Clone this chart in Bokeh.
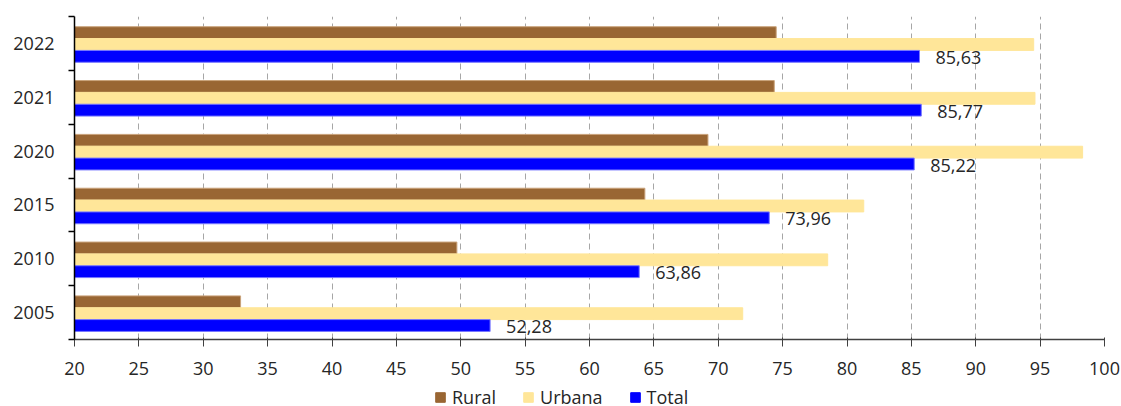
from bokeh.plotting import figure
from bokeh.layouts import column
from bokeh.models import (Range1d, FixedTicker, Legend, LegendItem, ColumnDataSource,
                          LinearAxis)
from bokeh.core.properties import value
from bokeh.embed import file_html
from bokeh.resources import INLINE

# ---- data (bottom to top) ----
years = ["2005", "2010", "2015", "2020", "2021", "2022"]
rural = [32.9, 49.7, 64.3, 69.2, 74.35, 74.5]
urbana = [71.9, 78.5, 81.3, 98.3, 94.6, 94.5]
total = [52.28, 63.86, 73.96, 85.22, 85.77, 85.63]
total_labels = ["52,28", "63,86", "73,96", "85,22", "85,77", "85,63"]
series_names = ["Rural", "Urbana", "Total"]
series_colors = ["#996633", "#ffe699", "#0000ff"]
series_lines = ["#c9a27a", "#ffe699", "#7777ff"]
x_ticks = list(range(20, 101, 5))

FONT = "Open Sans"
TXT = "#262626"
FS = "18px"

n = len(years)
centers = [i + 0.5 for i in range(n)]

p = figure(frame_width=1030, frame_height=323, output_backend="svg", toolbar_location=None,
           x_range=Range1d(20, 100), y_range=Range1d(0, n),
           min_border_left=74, min_border_right=17, min_border_top=16, min_border_bottom=48,
           x_axis_location=None, y_axis_location=None)
p.outline_line_color = None
p.background_fill_color = "white"
p.border_fill_color = "white"

# axes
xaxis = LinearAxis(ticker=FixedTicker(ticks=x_ticks))
xaxis.axis_line_color = "#404040"
xaxis.axis_line_width = 1.5
xaxis.major_tick_line_color = "#404040"
xaxis.major_tick_out = 7
xaxis.major_tick_in = 2
xaxis.minor_tick_line_color = None
xaxis.major_label_text_font = FONT
xaxis.major_label_text_font_size = FS
xaxis.major_label_text_color = TXT
xaxis.major_label_standoff = 15
p.add_layout(xaxis, "below")

yaxis = LinearAxis(ticker=FixedTicker(ticks=centers, minor_ticks=list(range(0, n + 1))))
yaxis.major_label_overrides = {c: y for c, y in zip(centers, years)}
yaxis.axis_line_color = "black"
yaxis.axis_line_width = 1.5
yaxis.major_tick_line_color = None
yaxis.major_tick_out = 0
yaxis.major_tick_in = 0
yaxis.minor_tick_line_color = "black"
yaxis.minor_tick_line_width = 1.5
yaxis.minor_tick_out = 6
yaxis.minor_tick_in = 0
yaxis.major_label_text_font = FONT
yaxis.major_label_text_font_size = FS
yaxis.major_label_text_color = TXT
yaxis.major_label_standoff = 14
p.add_layout(yaxis, "left")

# grid
p.xgrid.ticker = FixedTicker(ticks=x_ticks)
p.xgrid.grid_line_color = "#a6a6a6"
p.xgrid.grid_line_dash = "6 4"
p.xgrid.grid_line_width = 1
p.ygrid.grid_line_color = None

bh = 0.22
src = ColumnDataSource(dict(
    y_r=[c + 0.2 for c in centers],
    y_u=[c - 0.02 for c in centers],
    y_t=[c - 0.24 for c in centers],
    rural=rural, urbana=urbana, total=total, lab=total_labels,
))

p.hbar(y="y_r", left=20, right="rural", height=bh, source=src,
       fill_color=series_colors[0], line_color=series_lines[0], line_width=1)
p.hbar(y="y_u", left=20, right="urbana", height=bh, source=src,
       fill_color=series_colors[1], line_color=series_lines[1], line_width=1)
p.hbar(y="y_t", left=20, right="total", height=bh, source=src,
       fill_color=series_colors[2], line_color=series_lines[2], line_width=1)

p.text(x="total", y="y_t", text="lab", source=src, x_offset=16, y_offset=1,
       text_align="left", text_baseline="middle",
       text_font=value(FONT), text_font_size=FS, text_color=TXT)

# legend strip (separate figure below the chart; its frame is aligned with the chart's)
lg = figure(width=1121, height=19, output_backend="svg", toolbar_location=None,
            x_range=Range1d(20, 100), y_range=Range1d(50, 51),
            min_border=0, min_border_left=0, min_border_right=0,
            min_border_top=0, min_border_bottom=0,
            x_axis_location=None, y_axis_location=None)
lg.outline_line_color = None
lg.background_fill_color = "white"
lg.border_fill_color = "white"
lg.xgrid.visible = False
lg.ygrid.visible = False

items = []
for name, col, field, yf in zip(series_names, series_colors,
                                ["rural", "urbana", "total"], ["y_r", "y_u", "y_t"]):
    # same data as the chart, but far outside this strip's y-range: only the swatch shows
    r = lg.hbar(y=yf, left=20, right=field, height=bh, source=src,
                fill_color=col, line_color=col)
    items.append(LegendItem(label=name, renderers=[r]))

legend = Legend(items=items, orientation="horizontal", location=(360, -3),
                glyph_width=12, glyph_height=12, label_standoff=6, spacing=26,
                padding=0, margin=0, border_line_color=None, background_fill_alpha=0,
                label_text_font=FONT, label_text_font_size=FS, label_text_color=TXT)
lg.add_layout(legend, "center")

layout = column(p, lg, spacing=0)
open("out.html", "w").write(file_html(layout, INLINE))
